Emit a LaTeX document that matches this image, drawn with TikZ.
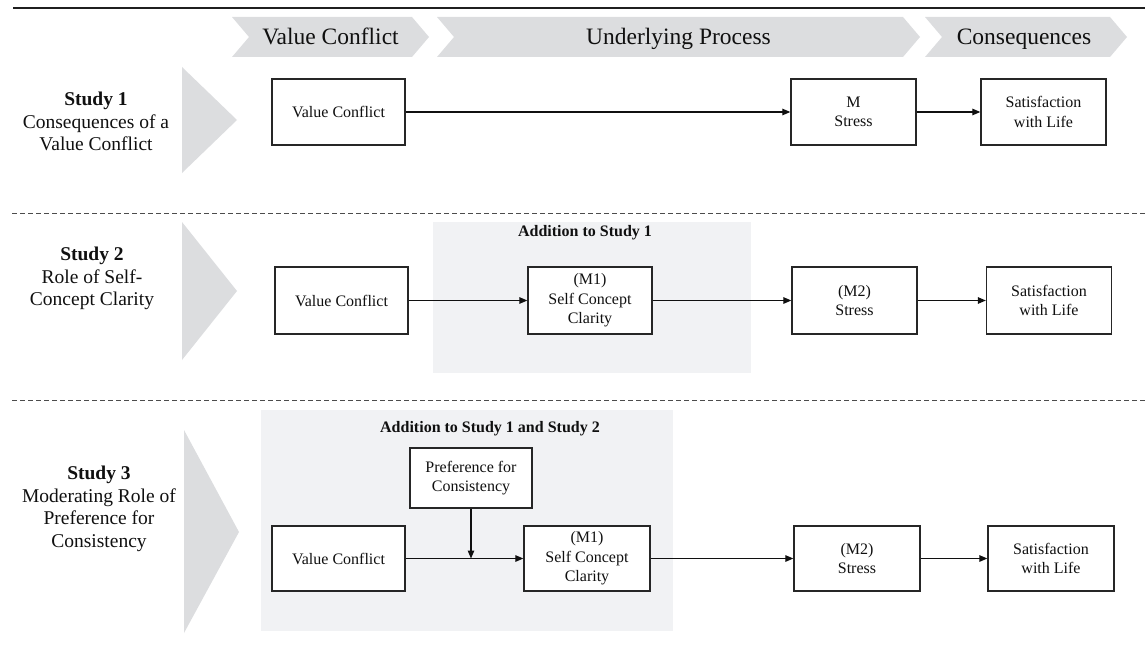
\documentclass[tikz,border=0pt]{standalone}
\usepackage{fontspec}
\setmainfont{Liberation Serif}
\usetikzlibrary{arrows.meta}
\definecolor{chev}{HTML}{DCDDDF}
\definecolor{panel}{HTML}{F1F2F4}
\definecolor{boxline}{HTML}{262626}
\definecolor{txt}{HTML}{101010}
\begin{document}
\begin{tikzpicture}[x=1pt,y=-1pt,
  hdr/.style={inner sep=0pt, text=txt, font=\fontsize{23.5}{26}\selectfont},
  lbl/.style={inner sep=0pt, align=center, text=txt, font=\fontsize{19.5}{22.5}\selectfont},
  bx/.style={draw=boxline, line width=1.3pt, fill=white, inner sep=0pt, align=center,
    minimum height=66pt, text=txt, font=\fontsize{16}{19.5}\selectfont},
  addl/.style={inner sep=0pt, text=txt, font=\fontsize{16}{19}\selectfont\bfseries},
  arr/.style={draw=txt, line width=1.2pt, -{Triangle[length=8pt,width=6.5pt]}},
  sep/.style={draw=black!70, line width=0.9pt, dash pattern=on 5pt off 3pt}
]
\useasboundingbox (0,0) rectangle (1145,650);

% top rule
\draw[line width=2.5pt, draw=black!88] (13,8) -- (1145,8);

% header chevrons
\fill[chev] (232,17) -- (412,17) -- (429,37) -- (412,57) -- (232,57) -- (249,37) -- cycle;
\fill[chev] (437,17) -- (903,17) -- (920,37) -- (903,57) -- (437,57) -- (454,37) -- cycle;
\fill[chev] (925,17) -- (1110,17) -- (1127,37) -- (1110,57) -- (925,57) -- (942,37) -- cycle;
\node[hdr, anchor=base] (h1) at (330.5,45) {Value Conflict};
\node[hdr, anchor=base] (h2) at (678.5,45) {Underlying Process};
\node[hdr, anchor=base] (h3) at (1024,45) {Consequences};

% separators
\draw[sep] (12,213) -- (1145,213);
\draw[sep] (12,400) -- (1145,400);

% left triangles
\fill[chev] (182,67) -- (237,120) -- (182,173) -- cycle;
\fill[chev] (182,222) -- (237,291) -- (182,360) -- cycle;
\fill[chev] (184,430) -- (239,532) -- (184,633) -- cycle;

% study labels
\node[lbl] (s1) at (96,121.5) {\textbf{Study 1}\\Consequences of a\\Value Conflict};
\node[lbl] (s2) at (92,278.5) {\textbf{Study 2}\\Role of Self-\\Concept Clarity};
\node[lbl] (s3) at (99,509) {\textbf{Study 3}\\Moderating Role of\\Preference for\\Consistency};

% panels
\fill[panel] (433,222) rectangle (751,373);
\fill[panel] (261,410) rectangle (673,631);
\node[addl] (a2) at (585,233) {Addition to Study 1};
\node[addl] (a3) at (490,429) {Addition to Study 1 and Study 2};

% Study 1 row
\node[bx, minimum width=133pt] (vc1) at (338.5,112) {Value Conflict};
\node[bx, minimum width=125pt] (m1) at (853.5,112) {M\\Stress};
\node[bx, minimum width=125pt] (sat1) at (1043.5,112) {Satisfaction\\with Life};
\draw[arr] (vc1.east) -- (m1.west);
\draw[arr] (m1.east) -- (sat1.west);

% Study 2 row
\node[bx, minimum width=133pt, minimum height=67pt] (vc2) at (341.5,300.5) {Value Conflict};
\node[bx, minimum width=124pt, minimum height=67pt] (sc2) at (590,300.5) {(M1)\\Self Concept\\Clarity};
\node[bx, minimum width=125pt, minimum height=67pt] (st2) at (854.5,300.5) {(M2)\\Stress};
\node[bx, minimum width=125pt, minimum height=67pt] (sat2) at (1049,300.5) {Satisfaction\\with Life};
\draw[arr] (vc2.east) -- (sc2.west);
\draw[arr] (sc2.east) -- (st2.west);
\draw[arr] (st2.east) -- (sat2.west);

% Study 3 row
\node[bx, minimum width=133pt, minimum height=65pt] (vc3) at (338.5,558.5) {Value Conflict};
\node[bx, minimum width=122pt, minimum height=60pt] (pref) at (471,478) {Preference for\\Consistency};
\node[bx, minimum width=126pt, minimum height=65pt] (sc3) at (587,558.5) {(M1)\\Self Concept\\Clarity};
\node[bx, minimum width=126pt, minimum height=65pt] (st3) at (857,558.5) {(M2)\\Stress};
\node[bx, minimum width=126pt, minimum height=65pt] (sat3) at (1051,558.5) {Satisfaction\\with Life};
\coordinate (j3) at (471,558.5);
\draw[arr] (vc3.east) -- (sc3.west);
\draw[arr] (pref.south) -- (j3);
\draw[arr] (sc3.east) -- (st3.west);
\draw[arr] (st3.east) -- (sat3.west);
\end{tikzpicture}
\end{document}
